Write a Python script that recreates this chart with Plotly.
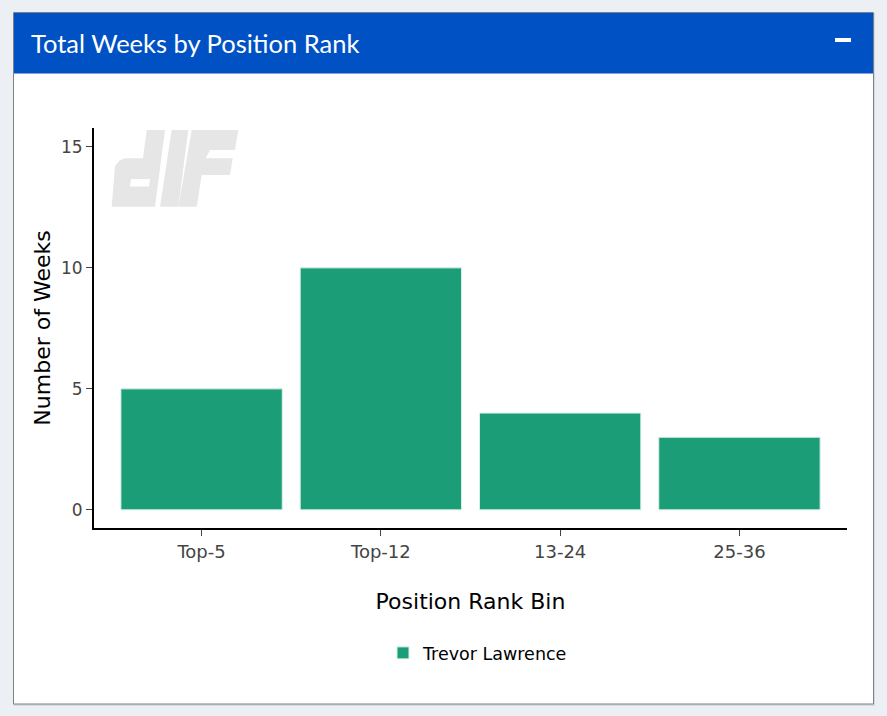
import plotly.graph_objects as go

categories = ["Top-5", "Top-12", "13-24", "25-36"]
weeks = [5, 10, 4, 3]
series_name = "Trevor Lawrence"
y_ticks = [0, 5, 10, 15]

W, H = 887, 716
L, R, T, B = 94, 40, 128, 188
PW, PH = W - L - R, H - T - B

def px(x):
    return (x - L) / PW

def py(y):
    return (H - B - y) / PH

FONT = "DejaVu Sans, Verdana, sans-serif"

fig = go.Figure()
fig.add_trace(go.Bar(
    x=categories, y=weeks, name=series_name,
    marker=dict(color="#1B9E77", line=dict(color="#d9f0e8", width=1)),
    showlegend=True,
))

shapes = [
    # card shadow
    dict(type="rect", xref="paper", yref="paper", x0=px(13), x1=px(875), y0=py(13), y1=py(706),
         fillcolor="#d5dae1", line=dict(width=0), layer="below"),
    # card
    dict(type="rect", xref="paper", yref="paper", x0=px(13.5), x1=px(873.5), y0=py(12.5), y1=py(704),
         fillcolor="white", line=dict(color="#7d8288", width=1), layer="below"),
    # header
    dict(type="rect", xref="paper", yref="paper", x0=px(14), x1=px(873), y0=py(13), y1=py(73.5),
         fillcolor="#0052C4", line=dict(width=0), layer="below"),
    # minus icon
    dict(type="rect", xref="paper", yref="paper", x0=px(835), x1=px(851), y0=py(38), y1=py(42),
         fillcolor="white", line=dict(width=0), layer="above"),
]

# watermark logo (light grey slanted letters)
logo = "#e6e6e6"
def poly(points, color=logo):
    d = "M " + " L ".join(f"{px(a)},{py(b)}" for a, b in points) + " Z"
    return dict(type="path", xref="paper", yref="paper", path=d, fillcolor=color,
                line=dict(width=0), layer="below")

shapes += [
    poly([(146.7, 130), (165, 130), (155, 206.7), (111.7, 206.7), (115, 166), (120, 160), (126, 158.3), (143, 158.3)]),
    poly([(131, 179), (150, 179), (149, 186.5), (130, 186.5)], "white"),
    poly([(171.7, 130), (188.3, 130), (178.3, 206.7), (160, 206.7)]),
    poly([(191.7, 130), (238.3, 130), (235, 150), (210, 150), (205.7, 158.3), (232.7, 158.3),
          (230, 175), (201.7, 175), (196.7, 206.7), (178.3, 206.7)]),
]

fig.update_layout(
    width=W, height=H,
    margin=dict(l=L, r=R, t=T, b=B, autoexpand=False),
    paper_bgcolor="#ECF0F5",
    plot_bgcolor="rgba(0,0,0,0)",
    bargap=0.1,
    shapes=shapes,
    font=dict(family=FONT, color="#444"),
    annotations=[dict(text="Total Weeks by Position Rank", xref="paper", yref="paper",
                      x=px(29), y=py(43), xanchor="left", yanchor="middle", showarrow=False,
                      font=dict(family="Lato, sans-serif", size=25.5, color="white"))],
    xaxis=dict(
        range=[-0.6, 3.6], showline=True, linecolor="black", linewidth=2,
        ticks="outside", ticklen=6, tickcolor="#444", showgrid=False, zeroline=False,
        tickfont=dict(size=18),
        title=dict(text="Position Rank Bin", font=dict(size=22, color="black"), standoff=33),
    ),
    yaxis=dict(
        range=[-0.75, 15.78], tickvals=y_ticks, showline=True, linecolor="black", linewidth=2,
        ticks="outside", ticklen=6, tickcolor="#444", showgrid=False, zeroline=False,
        tickfont=dict(size=17),
        title=dict(text="Number of Weeks", font=dict(size=22, color="black"), standoff=4),
    ),
    legend=dict(orientation="h", x=px(478), xanchor="center", y=py(653), yanchor="middle",
                font=dict(family=FONT, size=17.5, color="black"), bgcolor="rgba(0,0,0,0)"),
)

fig.write_html("out.html", config={"displayModeBar": False},
               post_script="document.body.style.margin='0';document.body.style.background='#ECF0F5';")
